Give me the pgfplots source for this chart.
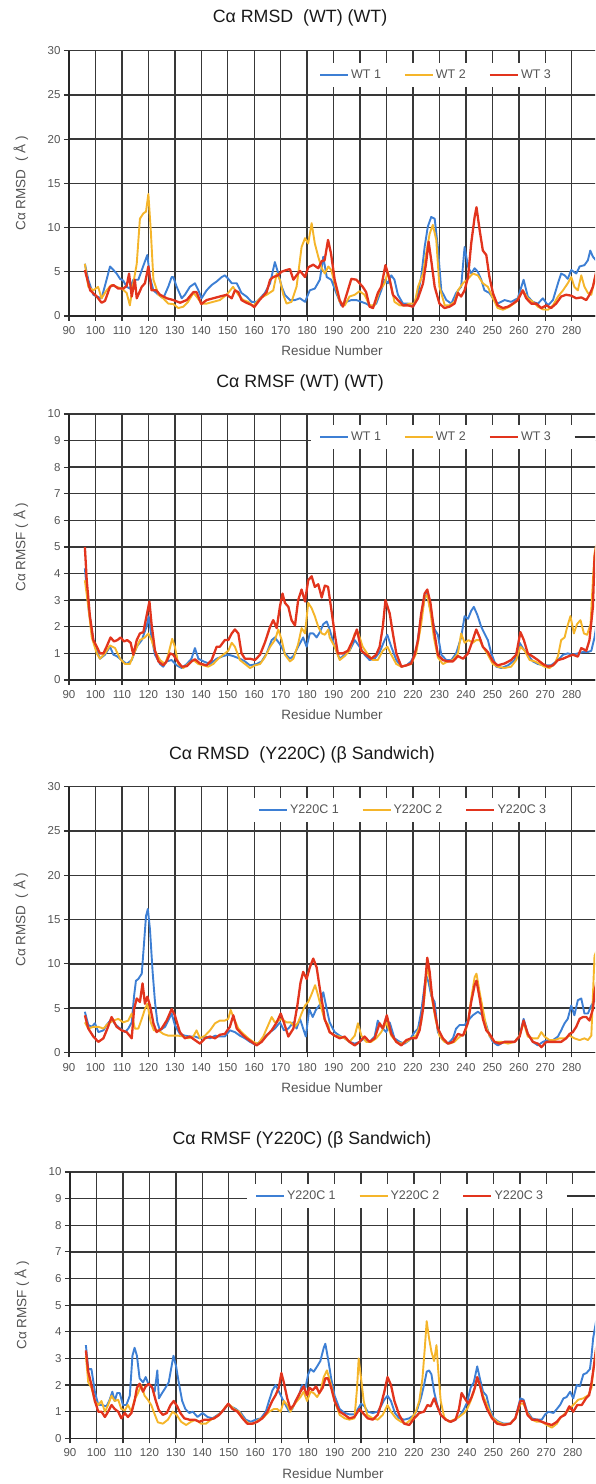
\documentclass[border=0pt]{standalone}
\usepackage{fontspec}
\setmainfont{Liberation Sans}
\usepackage{pgfplots}
\pgfplotsset{compat=1.18}
\definecolor{cblue}{HTML}{3D7FD4}
\definecolor{cyel}{HTML}{F5B52A}
\definecolor{cred}{HTML}{E2341D}
\definecolor{txt}{HTML}{555555}
\pgfplotsset{
  panel/.style={
    scale only axis, width=534.5pt,
    xmin=90, xmax=292, ymin=0,
    axis lines*=left,
    axis line style={black!85, line width=1.4pt},
    xtick={90,100,...,280},
    grid=major,
    major grid style={black!78, line width=1.4pt},
    tick align=outside, major tick length=5pt,
    tick style={black!80, line width=1.2pt},
    ticklabel style={font=\fontsize{11.5}{12}\selectfont, text=txt},
    xticklabel style={yshift=-2pt},
    /pgf/number format/assume math mode=true,
    every axis x label/.style={at={(axis description cs:0.492,-0.132)}, anchor=center,
      font=\fontsize{13.5}{14}\selectfont, text=txt},
    every axis y label/.style={at={(axis description cs:-0.09,0.5)}, rotate=90, anchor=center,
      font=\fontsize{13.5}{14}\selectfont, text=txt},
    xlabel={Residue Number},
    legend style={draw=none, fill=white, anchor=west,
      font=\fontsize{12.5}{13}\selectfont, text=txt,
      legend columns=-1, inner xsep=8pt, inner ysep=5pt,
      /tikz/every even column/.append style={column sep=21pt}},
    legend image code/.code={\draw[#1] (0pt,0pt) -- (28pt,0pt);},
  },
  sb/.style={cblue, line width=1.9pt, line join=round},
  sy/.style={cyel, line width=1.9pt, line join=round},
  sr/.style={cred, line width=2.3pt, line join=round},
}
\begin{document}
\begin{tikzpicture}
\useasboundingbox (0pt,0pt) rectangle (595pt,1484pt);
\clip (0pt,0pt) rectangle (595pt,1484pt);

% ---- panel 1: RMSD WT
\begin{axis}[panel, at={(69pt,1168pt)}, anchor=south west, height=265.3pt,
  ymax=30, ytick={0,5,...,30}, ylabel={Cα RMSD\ \ ( Å )},
  legend style={at={(axis description cs:0.4528,0.9084)}}]
\addplot[sb] coordinates {(96,5.9) (97.3,4.1) (99.2,2.4) (100.5,2.2) (102.3,2.0) (104.2,4.1) (105.5,5.6) (106.8,5.2) (108,4.8) (109.3,4.2) (110.5,4.0) (111.8,3.3) (113,3.1) (114.3,4.1) (116.2,4.1) (118,5.6) (119.6,6.9) (120.6,4.4) (121.9,2.9) (123.8,2.4) (125.6,2.0) (127.5,3.3) (128.8,4.4) (129.4,4.4) (130.7,3.3) (132.6,2.0) (133.8,2.4) (135.7,3.3) (137.6,3.7) (138.9,2.9) (140.1,2.0) (142,2.9) (143.9,3.5) (145.8,3.9) (147.7,4.4) (148.9,4.6) (150.2,4.2) (151.5,3.7) (153.4,3.7) (155.2,2.6) (157.1,2.2) (159,1.6) (160.9,1.6) (162.2,2.0) (164,2.6) (166,3.7) (167.8,6.1) (169.1,4.8) (170.4,3.3) (171.6,2.4) (173.5,1.8) (175.4,1.8) (177.3,2.0) (179.2,1.6) (181,2.9) (182.9,3.1) (184.8,4.1) (186.1,6.7) (187.4,4.4) (189.1,4.1) (191,2.6) (192.9,1.2) (194.8,1.6) (196.7,1.8) (198.6,1.8) (200.5,1.6) (202.3,1.4) (204.2,1.05) (206.1,1.4) (208,2.9) (209.3,4.1) (210.5,3.7) (211.8,4.6) (213,4.1) (214.3,2.4) (216.2,1.4) (218.1,1.4) (220,1.05) (221.9,2.6) (223.1,4.4) (224.4,7.8) (225.6,10.1) (226.9,11.2) (228.2,11.0) (229.4,7.8) (230.7,2.9) (232.6,1.8) (234.5,1.4) (236.3,2.6) (238.2,3.3) (239.5,7.8) (240.8,5.6) (242,4.8) (243.3,5.4) (244.5,5.0) (245.8,4.1) (247,2.9) (248.9,2.6) (250.2,2.0) (252,1.4) (254.6,1.8) (257.1,1.6) (259.6,2.0) (261.8,4.1) (263.4,2.2) (265.3,1.6) (267.2,1.4) (269.1,2.0) (271,1.2) (272.9,1.8) (274.8,3.7) (276,4.8) (277.3,4.6) (278.5,4.2) (279.8,5.2) (281.7,4.8) (283,5.6) (284.8,5.75) (286.1,6.3) (287,7.4) (288,6.7) (290,6.0)};
\addlegendentry{WT 1}
\addplot[sy] coordinates {(96,5.9) (97.3,3.3) (99.2,2.9) (101,3.3) (102.3,2.0) (104.2,2.9) (106,3.5) (108,3.3) (110,3.1) (111.8,2.6) (113,1.2) (114.3,3.7) (115.6,5.9) (116.8,11.0) (118.1,11.6) (119.1,11.8) (120,13.8) (120.9,9.7) (121.9,4.1) (123.8,2.4) (125.6,2.0) (127.5,1.4) (129.4,1.35) (131.3,0.9) (133.2,1.05) (135,1.6) (137,2.6) (138.2,2.2) (140.1,1.4) (142,1.4) (144.5,1.6) (147,1.8) (149.6,2.4) (152,3.3) (154,2.4) (155.9,1.8) (157.8,1.6) (159.6,1.1) (162.2,2.0) (164.7,2.4) (167.2,2.9) (168.5,4.8) (169.7,4.1) (171,2.4) (172.2,1.4) (174.1,1.6) (176,3.3) (177.9,7.8) (179.2,8.8) (180.4,8.2) (181.7,10.5) (182.9,8.2) (184.2,6.7) (185.5,5.4) (186.7,4.8) (188,5.6) (189.1,5.2) (190.4,3.7) (192.3,1.6) (194.2,1.2) (196,2.2) (198,2.4) (199.8,2.8) (201.7,2.4) (203.6,1.2) (205.5,1.2) (207.4,2.9) (209.3,3.7) (210.5,5.0) (211.8,3.3) (213,1.6) (215,1.2) (216.8,1.2) (218.7,1.4) (220.6,1.4) (221.9,3.3) (223.8,4.8) (225,7.1) (226.3,9.3) (227.5,10.3) (228.8,8.6) (230,3.3) (232,1.2) (233.8,1.2) (235.7,1.6) (237,2.9) (238.9,3.7) (240.8,4.2) (242.6,4.8) (244.5,4.6) (246.4,3.7) (248.3,3.3) (250.2,2.0) (252,0.9) (254,0.7) (256.5,1.05) (259,1.6) (261.5,2.9) (263.4,2.0) (265.3,1.6) (267.2,1.05) (269.1,0.75) (271,0.7) (272.9,1.2) (274.8,2.2) (276.7,2.9) (278.5,3.7) (279.8,4.4) (281,3.3) (282.3,2.9) (283.6,4.6) (284.8,3.3) (286.1,2.6) (287.4,2.4) (288.6,4.1) (290,5.5)};
\addlegendentry{WT 2}
\addplot[sr] coordinates {(96,5.2) (98,2.9) (100.5,2.2) (102.3,1.5) (103.6,1.7) (105.5,3.3) (106.8,3.5) (108.6,3.1) (110.5,3.1) (111.8,3.4) (112.7,4.8) (113.7,2.2) (114.9,4.1) (115.6,2.0) (117.5,3.3) (118.7,3.7) (120,5.6) (121.2,2.9) (123,2.9) (124.4,2.4) (127,2.0) (129.4,1.8) (132,1.5) (134.5,1.8) (137,2.7) (138.2,2.7) (140,1.35) (142,1.8) (144.5,2.0) (147,2.2) (149.6,2.4) (151.5,2.0) (152.7,2.9) (154,2.7) (155.2,1.8) (157,1.5) (159,1.25) (160,1.0) (162,1.8) (164.7,2.7) (166,4.1) (167.2,4.4) (169,4.6) (170.3,5.0) (172.2,5.2) (173.5,5.3) (174.8,4.1) (176,4.6) (177.3,5.1) (179.2,4.4) (180.4,5.5) (182.3,5.8) (184.2,5.4) (185.5,6.2) (186.6,6.3) (187.9,8.6) (189,7.1) (190.4,4.1) (192.3,1.8) (193.5,1.05) (195.4,2.9) (196.7,4.2) (198.6,4.1) (199.8,3.7) (201,3.3) (202.3,2.7) (203.6,1.05) (204.9,0.9) (206.7,2.6) (208,3.3) (209.6,5.75) (211.2,4.1) (212.4,2.4) (214.3,1.8) (216.2,1.2) (218.1,1.2) (220,1.05) (221.9,2.0) (223.8,3.7) (225,6.1) (225.9,8.4) (226.9,6.3) (228.2,3.3) (230,1.4) (231.9,0.9) (233.8,1.05) (235.7,1.4) (237,2.6) (238.2,2.2) (239.5,2.9) (240.8,4.4) (242,8.2) (243.3,11.2) (244,12.3) (245.2,9.7) (246.4,7.4) (247.7,6.9) (248.9,4.4) (250.2,2.6) (252,1.2) (254,0.9) (255.9,1.05) (257.8,1.4) (259.6,1.8) (261.5,2.9) (262.8,2.0) (264.7,1.4) (266.6,1.4) (268.5,0.9) (270.4,1.2) (272.2,0.9) (274.1,1.4) (276,2.2) (277.9,2.4) (279.8,2.3) (281.7,2.0) (283.6,2.1) (285.5,1.8) (286.7,2.4) (288,3.3) (290,6.0)};
\addlegendentry{WT 3}
\end{axis}

% ---- panel 2: RMSF WT
\begin{axis}[panel, at={(69pt,804pt)}, anchor=south west, height=266pt,
  ymax=10, ytick={0,1,...,10}, ylabel={Cα RMSF ( Å )},
  legend style={at={(axis description cs:0.4528,0.9135)}}]
\addplot[sb] coordinates {(96,4.2) (97.5,2.6) (99.2,1.5) (100.5,1.1) (101.7,0.8) (103.6,0.95) (105.5,1.25) (106.8,0.95) (108,0.9) (109.9,0.75) (111.8,0.6) (113.7,0.75) (115.6,1.25) (117.5,1.5) (119.3,2.0) (120.1,2.4) (121.2,1.6) (122.5,0.95) (124.4,0.6) (125.6,0.5) (126.9,0.7) (128.8,0.75) (130.7,0.55) (132.6,0.45) (134.5,0.6) (136.3,0.8) (137.6,1.2) (138.9,0.8) (140.8,0.7) (143.3,0.6) (145.8,0.8) (148.3,0.9) (150.2,0.95) (152,0.9) (154.6,0.8) (156.5,0.7) (158.4,0.55) (160.9,0.6) (162.8,0.7) (164.7,1.0) (166.6,1.5) (167.8,1.6) (169.7,1.35) (171.6,1.0) (173.5,0.8) (174.8,0.9) (176.6,1.25) (178.5,1.6) (179.8,1.25) (181,1.75) (182.3,1.75) (183.6,1.6) (184.8,1.8) (186.1,2.1) (187.4,2.2) (188.5,1.9) (190.4,1.25) (192.3,0.8) (194.2,0.95) (196,1.1) (198,1.5) (199.8,1.25) (201.7,0.95) (203.6,0.75) (205.5,0.8) (207.4,1.05) (209.3,1.5) (210.3,1.7) (211.8,1.25) (213.7,0.75) (215.6,0.5) (217.5,0.55) (219.3,0.7) (221.2,1.1) (223.1,2.4) (224.4,3.05) (225.4,3.25) (226.6,2.6) (228.2,1.9) (229.4,1.7) (230.7,0.95) (232.6,0.75) (234.5,0.75) (236.3,1.0) (238.2,1.6) (239.5,2.4) (240.8,2.3) (242,2.6) (243,2.75) (244.3,2.45) (245.8,2.0) (247,1.75) (248.3,1.5) (249.6,1.0) (251.5,0.5) (253.4,0.45) (255.9,0.55) (258.4,0.75) (260.3,1.4) (261.5,1.2) (263.4,0.95) (265.3,0.7) (267.2,0.6) (269.7,0.55) (272.2,0.55) (274.8,0.75) (276.7,0.95) (278.5,1.0) (280.4,0.95) (282.3,1.0) (284.2,1.05) (286.1,1.05) (287.4,1.1) (288.6,1.6) (290,2.5)};
\addlegendentry{WT 1}
\addplot[sy] coordinates {(96,3.75) (97.3,2.75) (98.6,1.6) (100.5,1.0) (101.7,0.8) (103.6,1.0) (105.5,1.3) (107.4,1.2) (109.3,0.8) (111.2,0.6) (113,0.6) (115,1.1) (116.8,1.5) (118.7,1.6) (120,1.75) (121.2,1.5) (122.5,1.1) (124.4,0.75) (126.3,0.6) (127.5,0.95) (129,1.55) (130,1.25) (131.3,0.6) (133.2,0.45) (135,0.6) (137,0.75) (138.9,0.6) (140.8,0.55) (142.6,0.5) (144.5,0.6) (146.4,0.8) (148.3,0.95) (150.2,1.1) (151.5,1.4) (152.7,1.25) (154.6,0.75) (156.5,0.6) (158.4,0.45) (160.3,0.55) (162.2,0.6) (164,0.85) (166,1.25) (167.8,1.5) (169.1,1.9) (170.4,1.5) (171.6,0.95) (173.5,0.7) (174.8,0.8) (176.6,1.35) (177.9,1.95) (179.2,1.75) (180.4,2.9) (181.7,2.7) (182.9,2.4) (184.2,2.0) (185.5,1.75) (186.7,1.7) (188,1.9) (188.5,1.6) (190.4,1.25) (192.3,0.75) (194.2,0.9) (196,1.1) (198,1.75) (199.2,1.8) (201,1.25) (203,0.95) (204.9,0.75) (206.7,0.75) (208.6,1.1) (210.3,1.25) (211.8,0.95) (213.7,0.6) (215.6,0.5) (217.5,0.55) (219.3,0.6) (221.2,1.0) (223.1,2.1) (224.4,3.1) (225.4,3.2) (226.6,2.55) (227.9,1.6) (229.4,0.85) (231.3,0.6) (233.2,0.7) (235.1,0.75) (237,1.0) (238.2,1.75) (239.5,1.4) (241,1.5) (242.6,1.4) (243.9,1.5) (245.2,1.5) (246.4,1.25) (248.3,0.95) (250.2,0.6) (252,0.5) (254.6,0.45) (257.1,0.5) (259,0.75) (260.6,1.25) (262.2,1.1) (264.1,0.75) (266,0.7) (267.9,0.6) (269.7,0.5) (271.6,0.45) (273.5,0.6) (274.8,0.9) (276,1.5) (277.3,1.6) (278.3,2.0) (279.5,2.4) (280.8,1.75) (282,2.1) (283.3,2.25) (284.6,1.75) (285.8,1.7) (287.1,2.1) (288,3.75) (288.6,4.75) (290,5.5)};
\addlegendentry{WT 2}
\addplot[sr] coordinates {(96,5.0) (96.7,3.75) (97.9,2.4) (99.2,1.5) (100.5,1.25) (101.7,1.0) (103,1.0) (104.2,1.25) (105.7,1.6) (107,1.45) (108.3,1.5) (109.5,1.6) (110.8,1.45) (112,1.5) (113.3,1.4) (114.3,0.95) (115.6,1.5) (116.8,1.75) (118.1,1.8) (119.3,2.4) (120.4,2.95) (121.2,2.1) (122.5,1.1) (123.8,0.7) (125.6,0.55) (126.9,0.7) (128.2,1.0) (129.4,0.95) (130.7,0.75) (132.6,0.5) (134.5,0.52) (136.3,0.7) (137.6,0.78) (139.5,0.62) (142,0.55) (143.9,0.75) (145.8,1.25) (147,1.25) (148.9,1.5) (150.2,1.5) (151.5,1.75) (152.7,1.9) (154,1.75) (155.2,1.0) (156.5,0.8) (158.4,0.8) (160.3,0.75) (162.2,0.95) (164,1.4) (166,2.0) (167.2,2.25) (168.5,1.95) (169.7,2.75) (170.7,3.25) (171.6,2.9) (172.9,2.75) (174.1,2.25) (175.4,2.05) (176.6,3.0) (177.9,3.4) (179.2,2.95) (180.4,3.75) (181.7,3.9) (182.9,3.5) (184.2,3.6) (185.5,3.1) (186.7,3.55) (187.9,3.5) (189,2.75) (190.4,1.75) (191.6,1.0) (193.5,1.0) (195.4,1.1) (197.3,1.5) (198.8,1.9) (200.5,1.1) (202.3,0.95) (204.2,0.8) (206.1,0.95) (207.4,1.25) (208.6,2.0) (209.6,3.0) (211.2,2.5) (212.4,1.75) (213.7,1.0) (215.6,0.5) (217.5,0.55) (219.3,0.62) (220.6,0.95) (221.9,1.5) (223.1,2.5) (224.4,3.25) (225.4,3.4) (226.6,2.9) (227.9,1.9) (229.4,0.95) (231.3,0.75) (233.2,0.7) (235.1,0.7) (237,0.9) (238.9,0.8) (240.8,1.0) (242.6,1.5) (243.9,1.9) (245.2,1.6) (246.4,1.25) (248.3,1.05) (250.2,0.7) (252,0.55) (254.6,0.62) (257.1,0.75) (259,0.95) (260.6,1.8) (261.9,1.5) (263.4,1.0) (265.3,0.88) (267.2,0.75) (269.1,0.6) (271,0.5) (272.9,0.55) (274.8,0.75) (276.7,0.8) (278.5,0.88) (280.4,0.95) (282.3,0.88) (283.6,1.2) (285.5,1.1) (286.7,1.5) (288,2.75) (288.6,4.6) (290,5.5)};
\addlegendentry{WT 3}
\addlegendimage{black!80, line width=1.4pt}
\addlegendentry{}
\end{axis}

% ---- panel 3: RMSD Y220C
\begin{axis}[panel, at={(69pt,431.5pt)}, anchor=south west, height=265.8pt,
  ymax=30, ytick={0,5,...,30}, ylabel={Cα RMSD\ \ ( Å )},
  legend style={at={(axis description cs:0.3386,0.9123)}}]
\addplot[sb] coordinates {(96,4.6) (97.3,3.1) (98.6,2.9) (99.8,3.3) (101.1,2.3) (103,2.5) (104.2,3.1) (106.1,3.8) (107.4,3.2) (109.3,2.7) (111.2,2.3) (112.4,2.7) (113.7,3.4) (114.6,6.4) (115.3,8.1) (116.2,8.3) (117.5,8.9) (118.3,12.1) (119.1,15.4) (119.8,16.2) (120.6,13.9) (121.6,9.1) (122.5,5.7) (123.4,3.4) (124.4,2.5) (126.3,2.9) (127.5,3.6) (128.8,4.4) (130,3.1) (131.9,2.1) (133.8,1.9) (135.7,1.8) (137.6,1.8) (139.5,1.6) (141.4,1.8) (143.3,1.6) (145.2,1.9) (147,1.8) (148.9,1.8) (150.8,2.5) (152.7,2.3) (154.6,1.9) (156.5,1.6) (158.4,1.2) (160.3,0.9) (162.2,1.2) (164,1.8) (166,2.3) (167.8,2.7) (169.7,3.4) (171.2,2.5) (172.9,2.7) (174.8,3.4) (176,2.7) (177.3,3.8) (178.5,2.7) (179.5,1.8) (180.8,4.9) (182.1,4.0) (183.3,4.8) (184.8,5.4) (186.1,6.8) (187.4,4.9) (188.5,3.4) (190.4,2.3) (192.3,1.9) (194.2,1.6) (196,1.2) (198,1.0) (199.8,1.2) (201.7,1.6) (203.6,1.2) (205.5,1.8) (206.7,3.6) (208,2.9) (209.9,2.3) (211.2,3.4) (213,1.6) (215,1.2) (216.8,1.0) (218.7,1.4) (220.6,2.3) (221.9,2.7) (223.1,4.6) (224.4,7.6) (225,8.7) (225.9,7.9) (226.9,6.4) (228.2,5.7) (229.4,2.3) (231.3,1.4) (233.2,1.0) (235.1,1.6) (236.3,2.7) (237.6,3.1) (239.5,3.1) (240.8,3.6) (242.6,4.2) (244.5,4.6) (246.4,4.2) (247.7,3.1) (248.9,1.9) (250.2,1.2) (252,0.8) (254.6,1.2) (256.5,1.2) (258.4,1.2) (260.3,1.9) (261.8,3.8) (263.4,2.1) (265.3,1.2) (267.2,0.8) (269.1,1.2) (271,1.4) (272.9,1.4) (274.8,1.8) (276,2.5) (277.3,3.3) (278.5,3.8) (279.8,5.3) (281,4.2) (282.3,5.9) (283.6,6.1) (284.8,4.4) (286.1,4.4) (287.4,5.3) (289,6.0)};
\addlegendentry{Y220C 1}
\addplot[sy] coordinates {(96,3.4) (97.3,2.7) (99.2,2.9) (101.1,2.9) (103,2.7) (104.9,3.3) (106.8,3.6) (108.6,3.8) (110.5,3.4) (112.4,3.6) (113.7,4.4) (114.9,2.7) (116.2,2.7) (117.5,3.8) (118.7,4.9) (119.6,5.5) (120.9,3.4) (122.1,2.5) (123.8,2.5) (125.6,2.1) (127.5,1.9) (129.4,1.9) (131.3,1.9) (133.2,1.8) (135.1,1.6) (137,1.8) (138.2,2.5) (139.5,1.6) (141.4,1.9) (143.3,2.5) (145.2,3.3) (147,3.6) (148.9,3.6) (150.2,3.8) (151.1,4.8) (152.1,4.0) (154,2.7) (155.9,2.1) (157.8,1.6) (159.6,1.2) (161.5,1.0) (163.4,1.8) (165.3,3.1) (166.6,4.0) (167.8,3.4) (169.1,3.6) (170.4,3.8) (172.2,3.4) (173.8,3.4) (175.4,2.9) (176.6,3.4) (177.9,4.4) (179.2,5.3) (180.4,5.7) (181.7,6.6) (183,7.6) (183.8,6.8) (185.1,5.3) (186.7,3.6) (188,3.1) (188.5,2.3) (190.4,1.9) (192.3,1.8) (194.2,1.6) (196,1.2) (198,1.9) (199.2,3.3) (200.5,1.9) (202.3,1.2) (204.2,1.2) (206.1,1.6) (208,2.3) (209.9,3.4) (211.8,1.9) (213.7,1.2) (215.6,1.0) (217.5,1.2) (219.3,1.6) (221.2,1.9) (223.1,3.4) (224.4,6.4) (225.4,9.8) (226.3,8.3) (227.2,6.0) (228.5,3.8) (230,1.9) (231.9,1.2) (233.8,1.0) (235.7,1.2) (237,1.6) (238.2,1.9) (239.5,2.1) (240.8,3.4) (242,6.1) (243.3,8.5) (244,8.9) (245.2,6.8) (246.4,4.9) (247.7,2.9) (248.9,1.9) (250.8,1.2) (253.4,1.2) (255.9,1.0) (258.4,1.2) (260.3,1.9) (261.8,3.4) (263.4,1.8) (265.3,1.6) (267.2,1.6) (268.5,2.3) (269.7,1.8) (271.6,1.4) (273.5,1.4) (275.4,1.6) (277.3,1.6) (279.2,1.9) (281,1.6) (283,1.4) (284.8,1.6) (286.1,1.4) (287.4,1.9) (288,6.4) (288.6,10.9) (290,12)};
\addlegendentry{Y220C 2}
\addplot[sr] coordinates {(96,4.2) (97.3,2.7) (99.2,1.8) (101.1,1.2) (103,1.6) (104.5,2.7) (106.1,4.0) (108,2.9) (109.9,2.5) (111.8,2.3) (113.7,1.6) (114.6,4.9) (115.6,6.1) (116.8,5.7) (117.8,7.8) (118.7,5.5) (119.6,6.3) (120.6,5.3) (121.9,3.3) (123.1,2.3) (125,2.7) (126.9,3.6) (128.8,4.9) (130,4.2) (131.9,2.3) (133.8,1.6) (135.7,1.8) (137.6,1.4) (139.5,1.0) (141.4,1.6) (143.3,1.8) (145.2,1.6) (147,2.0) (148.9,2.1) (150.8,2.9) (152.1,4.2) (153.4,2.7) (155.2,2.1) (157.1,1.6) (159,1.2) (160.9,0.8) (162.8,1.2) (164.7,1.9) (166.6,2.5) (168.5,3.4) (170,4.4) (171.2,3.4) (172.9,1.8) (174.8,2.7) (176.3,5.3) (177.5,7.9) (178.5,9.1) (179.8,8.3) (181,9.6) (182.3,10.6) (183.6,9.6) (184.8,7.2) (186.1,4.9) (186.6,3.8) (188.5,2.3) (190.4,1.9) (192.3,1.6) (194.2,1.8) (196,1.2) (198,0.8) (199.8,1.2) (201.7,1.8) (203.6,1.2) (205.5,1.6) (207.4,3.3) (208.6,2.7) (210.1,4.2) (211.8,2.1) (213.7,1.2) (215.6,0.8) (217.5,1.4) (219.3,1.6) (221.2,1.6) (222.5,2.5) (223.8,4.9) (224.6,7.9) (225.4,10.7) (226.3,9.1) (227.2,6.4) (228.2,4.6) (229.4,2.7) (231.3,1.6) (233.2,1.0) (235.1,1.2) (237,2.1) (238.9,1.9) (240.8,3.4) (242,5.7) (243.3,7.6) (244,8.1) (245.2,6.1) (246.4,3.8) (247.7,2.5) (248.9,2.1) (250.8,1.2) (252.7,1.0) (254.6,1.2) (256.5,1.2) (258.4,1.2) (260.3,1.8) (261.8,3.6) (263.4,2.1) (265.3,1.2) (267.2,1.0) (268.5,0.6) (270.4,1.2) (272.2,1.2) (274.1,1.2) (276,1.2) (277.9,1.6) (279.2,2.1) (280.4,2.3) (281.7,2.9) (283,3.8) (284.2,4.0) (285.5,4.0) (286.7,3.6) (288,4.9) (288.6,6.8) (290,9)};
\addlegendentry{Y220C 3}
\end{axis}

% ---- panel 4: RMSF Y220C
\begin{axis}[panel, at={(70pt,45.7pt)}, anchor=south west, height=266.3pt,
  ymax=10, ytick={0,1,...,10}, ylabel={Cα RMSF ( Å )},
  legend style={at={(axis description cs:0.3311,0.9099)}}]
\addplot[sb] coordinates {(96,3.5) (96.9,2.6) (98.1,2.6) (99.4,1.75) (100.7,1.25) (101.9,1.25) (103.8,1.2) (105,1.45) (106,1.75) (106.9,1.4) (107.8,1.7) (108.8,1.7) (110,1.25) (111.3,1.25) (112.6,1.6) (113.6,3.1) (114.4,3.4) (115.3,3.1) (116.3,2.25) (117.6,2.1) (118.6,2.3) (119.8,2.0) (121.1,1.9) (122,1.75) (123,2.55) (123.6,1.5) (124.8,1.7) (126.1,1.9) (127.3,2.1) (128.2,2.6) (129.1,3.1) (130.1,2.7) (131.1,2.1) (132.4,1.4) (133.6,1.1) (135.1,0.95) (136.4,1.0) (138.2,0.8) (140.1,0.95) (142,0.8) (143.9,0.75) (145.8,0.88) (147.6,1.0) (149.5,1.25) (150.8,1.2) (152.7,1.1) (154.6,0.95) (156.4,0.7) (158.3,0.62) (160.2,0.7) (162.1,0.75) (164,1.0) (165.2,1.4) (166.5,1.8) (167.7,2.0) (169,1.75) (170.2,1.5) (171.5,1.25) (172.8,1.0) (174,1.1) (175.2,1.4) (176.5,1.6) (177.7,2.0) (179,1.9) (180,2.4) (180.9,2.6) (182.1,2.5) (183.4,2.7) (184.6,2.9) (185.9,3.4) (186.5,3.55) (187.5,3.0) (188.7,2.25) (190,1.6) (191.9,1.1) (193.8,0.95) (195.6,0.9) (197.5,0.9) (198.8,1.1) (200,1.3) (201.3,1.2) (202.5,1.0) (204.4,0.95) (206.3,1.0) (207.5,1.2) (208.8,1.45) (210,1.6) (211.3,1.4) (212.8,0.95) (214.4,0.75) (216.3,0.7) (218.2,0.75) (220.1,0.88) (221.3,1.1) (222.6,1.5) (223.8,2.0) (224.8,2.5) (225.7,2.55) (226.6,2.4) (227.6,1.75) (228.8,1.25) (230.1,0.88) (232,0.7) (233.9,0.62) (235.7,0.7) (237.6,0.88) (238.9,1.1) (240.1,1.35) (241.4,1.9) (242.6,2.1) (243.9,2.7) (244.9,2.25) (246.1,1.75) (247.4,1.6) (248.6,1.1) (250.2,0.75) (252,0.62) (253.9,0.55) (256.4,0.55) (258.3,0.75) (260.2,1.5) (261.4,1.45) (262.6,1.05) (264.6,0.75) (266.4,0.7) (268.3,0.7) (269.6,0.9) (270.8,1.0) (272.7,0.95) (274,1.1) (275.2,1.25) (276.5,1.5) (277.7,1.55) (279,1.75) (280.2,1.5) (281.5,2.0) (282.7,1.95) (284,2.4) (285.2,2.45) (286.5,2.6) (287.1,3.1) (287.7,3.75) (289,4.5)};
\addlegendentry{Y220C 1}
\addplot[sy] coordinates {(96,3.1) (96.9,2.1) (98.1,1.9) (99.4,1.4) (100.7,1.25) (101.9,1.4) (103.2,1.0) (104.4,1.25) (105.7,1.6) (106.9,1.4) (108.2,1.45) (109.4,1.1) (110.7,1.05) (111.9,1.25) (113.2,1.0) (114.4,1.45) (115.7,1.7) (116.9,2.0) (118.2,1.6) (119.4,1.45) (120.7,1.25) (122,0.9) (123.2,0.6) (125.1,0.55) (127,0.7) (128.8,1.0) (130.3,0.88) (132,0.62) (133.9,0.5) (135.7,0.62) (137.6,0.7) (139.5,0.55) (141.4,0.55) (143.3,0.7) (145.1,0.8) (147,0.95) (148.9,1.2) (150.4,1.25) (152,1.1) (153.9,1.0) (155.8,0.7) (157.7,0.55) (159.5,0.55) (161.4,0.7) (163.3,0.8) (165.2,1.0) (167.1,1.1) (168.3,1.1) (169.6,1.0) (170.8,1.4) (172.1,1.25) (173.3,1.0) (174.6,1.25) (175.8,1.4) (177.1,1.55) (178.3,1.75) (179.6,1.4) (180.9,1.75) (182.1,1.7) (183.4,1.55) (184.6,1.75) (185.9,2.3) (187.1,2.55) (188.7,2.0) (190,1.4) (191.9,0.88) (193.8,0.75) (195.6,0.7) (197.5,0.75) (198.5,1.9) (199.1,3.0) (200,2.25) (201,1.4) (202.3,0.88) (204.4,0.75) (206.3,0.7) (208.2,0.88) (210,1.25) (211.3,1.0) (213.2,0.75) (215.1,0.62) (216.9,0.55) (218.8,0.7) (220.7,1.0) (222,1.4) (223.2,2.25) (224.1,3.4) (224.8,4.4) (225.7,3.75) (226.6,3.25) (227.6,2.9) (228.5,3.5) (229.2,2.5) (230.1,1.4) (231.4,0.8) (233.2,0.62) (235.1,0.7) (237,0.8) (238.9,0.95) (240.1,1.1) (241.4,1.4) (242.6,1.75) (243.9,2.25) (244.9,2.0) (246.1,1.6) (247.6,1.25) (249.5,0.8) (251.4,0.62) (253.9,0.52) (256.4,0.55) (258.3,0.75) (260.2,1.3) (261.4,1.3) (262.9,0.95) (264.6,0.7) (266.4,0.62) (268.3,0.62) (270.2,0.5) (272.1,0.4) (274,0.55) (275.2,0.75) (276.5,0.88) (278.3,1.05) (280.2,1.25) (282.1,1.45) (284,1.5) (285.9,1.62) (287.1,1.9) (287.7,2.5) (289,3.5)};
\addlegendentry{Y220C 2}
\addplot[sr] coordinates {(96,3.3) (96.9,2.5) (98.1,2.0) (99.4,1.4) (100.7,1.0) (101.9,1.0) (103.2,0.8) (104.4,1.0) (105.7,1.25) (106.9,1.1) (108.2,1.0) (109.4,0.75) (110.7,0.95) (111.9,0.8) (113.2,0.95) (114.4,1.4) (115.3,1.9) (116.3,2.05) (117.6,1.75) (118.6,1.95) (119.8,2.05) (121.1,1.9) (122.3,1.45) (123.6,1.05) (125.1,0.88) (126.6,0.95) (128,1.25) (129.2,1.4) (130.5,1.2) (131.7,0.95) (133.2,0.75) (135.1,0.7) (137,0.7) (138.9,0.62) (140.8,0.7) (142.6,0.7) (144.5,0.75) (146.4,0.88) (148.3,1.1) (149.8,1.3) (151.4,1.1) (153.3,1.0) (155.2,0.75) (157,0.55) (158.9,0.55) (160.8,0.62) (162.7,0.75) (164.6,1.0) (166.4,1.4) (167.7,1.62) (168.9,1.9) (169.9,2.45) (170.8,2.1) (172.1,1.5) (173.3,1.1) (174.6,1.25) (175.8,1.5) (177.1,1.75) (178.3,1.95) (179.6,1.62) (180.5,1.9) (181.7,1.8) (183,1.95) (184.2,1.7) (185.5,1.9) (186.5,2.25) (187.5,2.25) (188.7,1.9) (190,1.4) (191.9,1.0) (193.8,0.88) (195.6,0.75) (197.5,0.8) (199.4,1.1) (200.7,0.95) (202.5,0.75) (204.4,0.7) (206.3,0.88) (207.5,1.25) (208.8,1.75) (210,2.3) (211.3,2.0) (212.6,1.4) (214.4,0.88) (216.3,0.55) (218.2,0.5) (220.1,0.75) (222,0.95) (223.8,1.0) (225.1,1.25) (226.3,1.2) (227.6,1.5) (228.8,1.2) (230.1,0.88) (232,0.7) (233.9,0.62) (235.7,0.7) (237,1.1) (238,1.7) (239.2,1.5) (240.5,1.3) (241.8,1.55) (243,1.9) (243.9,2.3) (244.9,2.0) (246.1,1.5) (247.6,1.1) (249.5,0.75) (251.4,0.55) (253.9,0.5) (256.4,0.55) (258.3,0.75) (260.2,1.4) (261.4,1.4) (262.9,0.88) (264.6,0.7) (266.4,0.7) (268.3,0.62) (270.2,0.55) (272.1,0.5) (274,0.62) (275.5,0.8) (277.1,0.88) (278.7,1.2) (280.2,1.0) (281.7,1.25) (283.4,1.25) (285,1.5) (286.2,1.62) (287.1,2.1) (287.7,2.5) (289,3.5)};
\addlegendentry{Y220C 3}
\addlegendimage{black!80, line width=1.4pt}
\addlegendentry{}
\end{axis}

% titles
\node[font=\fontsize{17.8}{19}\selectfont, text=black!90] at (300pt,1466pt) {Cα RMSD\ \ (WT) (WT)};
\node[font=\fontsize{17.8}{19}\selectfont, text=black!90] at (300pt,1101pt) {Cα RMSF (WT) (WT)};
\node[font=\fontsize{17.8}{19}\selectfont, text=black!90] at (302pt,729pt) {Cα RMSD\ \ (Y220C) (β Sandwich)};
\node[font=\fontsize{17.8}{19}\selectfont, text=black!90] at (302pt,344pt) {Cα RMSF (Y220C) (β Sandwich)};
\end{tikzpicture}
\end{document}
